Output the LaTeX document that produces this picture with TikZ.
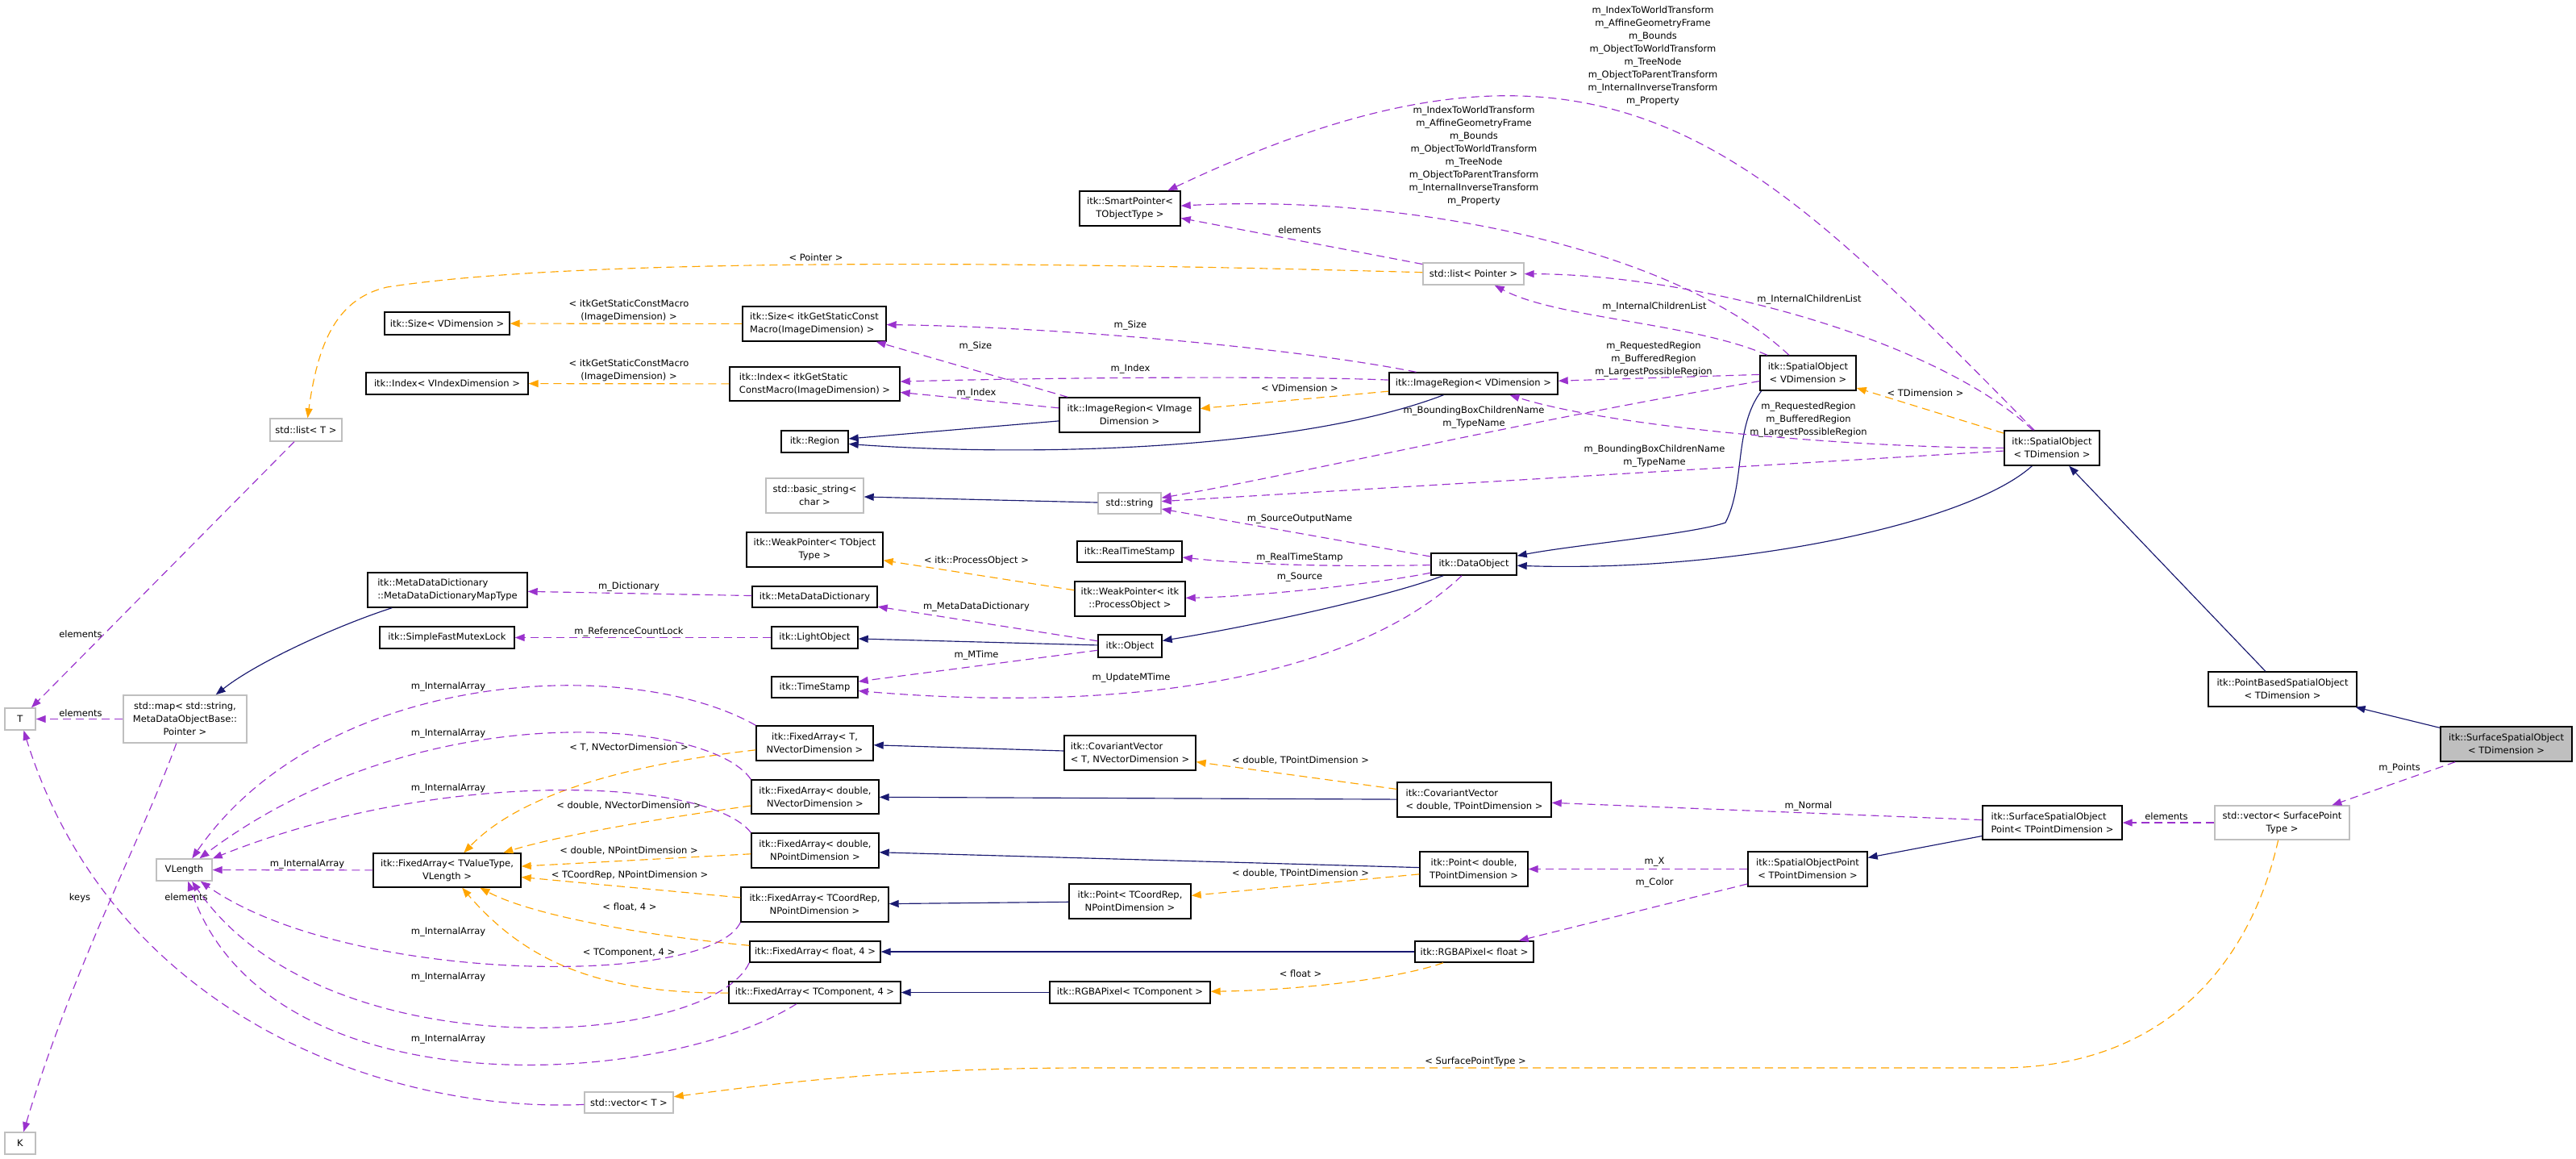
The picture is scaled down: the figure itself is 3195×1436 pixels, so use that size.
\documentclass[tikz,border=0pt]{standalone}
\usepackage{fontspec}
\setmainfont{DejaVu Sans}
\usetikzlibrary{arrows.meta}
\definecolor{navyc}{HTML}{191970}
\definecolor{orchc}{HTML}{9A32CD}
\definecolor{orngc}{HTML}{FFA500}
\definecolor{grayc}{HTML}{BFBFBF}
\tikzset{
  txt/.style={font=\fontsize{11.5}{16}\selectfont, align=center},
  cbox/.style={draw=black, line width=1.4pt, fill=white, txt, inner sep=2pt},
  gbox/.style={cbox, draw=grayc},
  fbox/.style={cbox, fill=grayc},
  lbl/.style={txt, inner sep=0pt},
  tipE/.style={-{Triangle[length=12pt,width=9pt]}},
  inhE/.style={navyc, line width=1.15pt, tipE},
  usageE/.style={orchc, line width=1.15pt, dash pattern=on 10pt off 6pt, tipE},
  tmplE/.style={orngc, line width=1.15pt, dash pattern=on 10pt off 6pt, tipE}
}
\newcommand{\bnode}[7][cbox]{\node[#1, minimum width={(#5-#3)*1pt}, minimum height={(#6-#4)*1pt}] (#2) at ({(#3+#5)/2},{(#4+#6)/2}) {#7};}
\begin{document}
\begin{tikzpicture}[x=1pt,y=-1pt]
\useasboundingbox (0,0) rectangle (3195,1436);
% ---------------- nodes
\bnode[fbox]{SSO}{3027}{901}{3190}{944}{itk::SurfaceSpatialObject\\< TDimension >}
\bnode{PBSO}{2739}{833}{2923}{876}{itk::PointBasedSpatialObject\\< TDimension >}
\bnode{SOT}{2486}{534}{2604}{577}{itk::SpatialObject\\< TDimension >}
\bnode{SOV}{2183}{441}{2302}{484}{itk::SpatialObject\\< VDimension >}
\bnode{SP}{1339}{237}{1464}{280}{itk::SmartPointer<\\TObjectType >}
\bnode[gbox]{LP}{1765}{326}{1890}{353}{std::list< Pointer >}
\bnode[gbox]{LT}{335}{519}{424}{547}{std::list< T >}
\bnode{SizeV}{477}{387}{632}{415}{itk::Size< VDimension >}
\bnode{IndexV}{454}{462}{655}{489}{itk::Index< VIndexDimension >}
\bnode[cbox,align=left]{SizeI}{921}{380}{1099}{423}{itk::Size< itkGetStaticConst\\Macro(ImageDimension) >}
\bnode[cbox,align=left]{IndexI}{905}{455}{1116}{497}{itk::Index< itkGetStatic\\ConstMacro(ImageDimension) >}
\bnode{IRV}{1723}{462}{1932}{489}{itk::ImageRegion< VDimension >}
\bnode{IRI}{1314}{493}{1488}{536}{itk::ImageRegion< VImage\\Dimension >}
\bnode{Region}{969}{534}{1052}{561}{itk::Region}
\bnode[gbox]{BS}{950}{593}{1071}{636}{std::basic\_string<\\char >}
\bnode[gbox]{Str}{1362}{611}{1440}{637}{std::string}
\bnode{WPT}{926}{660}{1095}{703}{itk::WeakPointer< TObject\\Type >}
\bnode{RTS}{1336}{671}{1466}{697}{itk::RealTimeStamp}
\bnode{DO}{1775}{686}{1881}{713}{itk::DataObject}
\bnode{WPP}{1333}{721}{1470}{764}{itk::WeakPointer< itk\\::ProcessObject >}
\bnode[cbox,align=left]{MDM}{456}{710}{654}{753}{itk::MetaDataDictionary\\::MetaDataDictionaryMapType}
\bnode{MDD}{933}{727}{1088}{753}{itk::MetaDataDictionary}
\bnode{SFML}{471}{777}{638}{804}{itk::SimpleFastMutexLock}
\bnode{LO}{957}{777}{1064}{804}{itk::LightObject}
\bnode{Obj}{1362}{787}{1441}{815}{itk::Object}
\bnode{TS}{957}{839}{1064}{865}{itk::TimeStamp}
\bnode[gbox]{T}{6}{878}{44}{905}{T}
\bnode[gbox]{Map}{153}{862}{306}{921}{std::map< std::string,\\MetaDataObjectBase::\\Pointer >}
\bnode[gbox]{K}{6}{1404}{44}{1431}{K}
\bnode[gbox]{VL}{194}{1065}{263}{1092}{VLength}
\bnode{FAV}{463}{1058}{646}{1100}{itk::FixedArray< TValueType,\\VLength >}
\bnode{FAT}{938}{900}{1083}{943}{itk::FixedArray< T,\\NVectorDimension >}
\bnode[cbox,align=left]{CVT}{1320}{912}{1483}{955}{itk::CovariantVector\\< T, NVectorDimension >}
\bnode{FAdV}{932}{967}{1090}{1009}{itk::FixedArray< double,\\NVectorDimension >}
\bnode{FAdP}{932}{1033}{1090}{1076}{itk::FixedArray< double,\\NPointDimension >}
\bnode{FAC}{919}{1100}{1102}{1143}{itk::FixedArray< TCoordRep,\\NPointDimension >}
\bnode{PC}{1326}{1096}{1477}{1139}{itk::Point< TCoordRep,\\NPointDimension >}
\bnode{FAf}{930}{1167}{1092}{1193}{itk::FixedArray< float, 4 >}
\bnode{FATC}{904}{1217}{1117}{1244}{itk::FixedArray< TComponent, 4 >}
\bnode{RGBT}{1302}{1217}{1501}{1244}{itk::RGBAPixel< TComponent >}
\bnode[gbox]{VT}{725}{1354}{835}{1380}{std::vector< T >}
\bnode[cbox,align=left]{CVd}{1733}{970}{1924}{1013}{itk::CovariantVector\\< double, TPointDimension >}
\bnode{Pd}{1761}{1056}{1895}{1099}{itk::Point< double,\\TPointDimension >}
\bnode{RGBf}{1755}{1167}{1902}{1193}{itk::RGBAPixel< float >}
\bnode{SOP}{2168}{1056}{2316}{1099}{itk::SpatialObjectPoint\\< TPointDimension >}
\bnode[cbox,align=left]{SSOP}{2459}{999}{2632}{1041}{itk::SurfaceSpatialObject\\Point< TPointDimension >}
\bnode[gbox]{VS}{2747}{999}{2914}{1041}{std::vector< SurfacePoint\\Type >}
% ---------------- labels
\node[lbl] (l01) at (2050,69) {m\_IndexToWorldTransform\\m\_AffineGeometryFrame\\m\_Bounds\\m\_ObjectToWorldTransform\\m\_TreeNode\\m\_ObjectToParentTransform\\m\_InternalInverseTransform\\m\_Property};
\node[lbl] (l02) at (1828,193) {m\_IndexToWorldTransform\\m\_AffineGeometryFrame\\m\_Bounds\\m\_ObjectToWorldTransform\\m\_TreeNode\\m\_ObjectToParentTransform\\m\_InternalInverseTransform\\m\_Property};
\node[lbl] (l03) at (1612,285) {elements};
\node[lbl] (l04) at (1012,319) {< Pointer >};
\node[lbl] (l05) at (2052,380) {m\_InternalChildrenList};
\node[lbl] (l06) at (2244,371) {m\_InternalChildrenList};
\node[lbl] (l07) at (2051,445) {m\_RequestedRegion\\m\_BufferedRegion\\m\_LargestPossibleRegion};
\node[lbl] (l08) at (2243,520) {m\_RequestedRegion\\m\_BufferedRegion\\m\_LargestPossibleRegion};
\node[lbl] (l09) at (1828,517) {m\_BoundingBoxChildrenName\\m\_TypeName};
\node[lbl] (l10) at (2052,565) {m\_BoundingBoxChildrenName\\m\_TypeName};
\node[lbl] (l11) at (2388,487) {< TDimension >};
\node[lbl] (l12) at (1402,403) {m\_Size};
\node[lbl] (l13) at (1210,429) {m\_Size};
\node[lbl] (l14) at (1402,457) {m\_Index};
\node[lbl] (l15) at (1211,487) {m\_Index};
\node[lbl] (l16) at (1612,481) {< VDimension >};
\node[lbl] (l17) at (780,385) {< itkGetStaticConstMacro\\(ImageDimension) >};
\node[lbl] (l18) at (780,459) {< itkGetStaticConstMacro\\(ImageDimension) >};
\node[lbl] (l19) at (1612,644) {m\_SourceOutputName};
\node[lbl] (l20) at (1612,691) {m\_RealTimeStamp};
\node[lbl] (l21) at (1612,716) {m\_Source};
\node[lbl] (l22) at (1403,840) {m\_UpdateMTime};
\node[lbl] (l23) at (1211,695) {< itk::ProcessObject >};
\node[lbl] (l24) at (1211,752) {m\_MetaDataDictionary};
\node[lbl] (l25) at (1211,812) {m\_MTime};
\node[lbl] (l26) at (780,727) {m\_Dictionary};
\node[lbl] (l27) at (780,783) {m\_ReferenceCountLock};
\node[lbl] (l28) at (100,786) {elements};
\node[lbl] (l29) at (100,884) {elements};
\node[lbl] (l30) at (99,1113) {keys};
\node[lbl] (l31) at (231,1112) {elements};
\node[lbl] (l32) at (556,851) {m\_InternalArray};
\node[lbl] (l33) at (556,909) {m\_InternalArray};
\node[lbl] (l34) at (556,977) {m\_InternalArray};
\node[lbl] (l35) at (381,1071) {m\_InternalArray};
\node[lbl] (l36) at (556,1155) {m\_InternalArray};
\node[lbl] (l37) at (556,1211) {m\_InternalArray};
\node[lbl] (l38) at (556,1288) {m\_InternalArray};
\node[lbl] (l39) at (780,927) {< T, NVectorDimension >};
\node[lbl] (l40) at (780,999) {< double, NVectorDimension >};
\node[lbl] (l41) at (780,1055) {< double, NPointDimension >};
\node[lbl] (l42) at (781,1085) {< TCoordRep, NPointDimension >};
\node[lbl] (l43) at (781,1125) {< float, 4 >};
\node[lbl] (l44) at (780,1181) {< TComponent, 4 >};
\node[lbl] (l45) at (1613,943) {< double, TPointDimension >};
\node[lbl] (l46) at (1613,1083) {< double, TPointDimension >};
\node[lbl] (l47) at (1613,1207) {< float >};
\node[lbl] (l48) at (2243,999) {m\_Normal};
\node[lbl] (l49) at (2052,1069) {m\_X};
\node[lbl] (l50) at (2052,1094) {m\_Color};
\node[lbl] (l51) at (2976,952) {m\_Points};
\node[lbl] (l52) at (2687,1012) {elements};
\node[lbl] (l53) at (1830,1316) {< SurfacePointType >};
% ---------------- inheritance
\draw[inhE] (IRI) -- (Region);
\draw[inhE] (IRV) .. controls (1620,555) and (1300,568) .. (Region);
\draw[inhE] (Str) -- (BS);
\draw[inhE] (Obj) -- (LO);
\draw[inhE] (DO) .. controls (1720,740) and (1560,775) .. (Obj);
\draw[inhE] (SOV.201) .. controls (2150,530) and (2165,600) .. (2140,648) .. controls (2100,662) and (1950,676) .. (DO);
\draw[inhE] (SOT) .. controls (2440,650) and (2150,710) .. (DO);
\draw[inhE] (PBSO) -- (SOT);
\draw[inhE] (SSO) -- (PBSO);
\draw[inhE] (SSOP) -- (SOP);
\draw[inhE] (CVT) -- (FAT);
\draw[inhE] (CVd) -- (FAdV);
\draw[inhE] (Pd) -- (FAdP);
\draw[inhE] (PC) -- (FAC);
\draw[inhE] (RGBf) -- (FAf);
\draw[inhE] (RGBT) -- (FATC);
\draw[inhE] (MDM) .. controls (420,775) and (320,820) .. (Map);
% ---------------- template instances
\draw[tmplE] (LP) .. controls (1200,322) and (700,322) .. (480,356) .. controls (420,370) and (395,420) .. (LT);
\draw[tmplE] (SizeI) -- (SizeV);
\draw[tmplE] (IndexI) -- (IndexV);
\draw[tmplE] (IRV) -- (IRI);
\draw[tmplE] (WPP) -- (WPT);
\draw[tmplE] (SOT) -- (SOV);
\draw[tmplE] (FAT) .. controls (760,950) and (640,990) .. (FAV);
\draw[tmplE] (FAdV) .. controls (780,1020) and (680,1040) .. (FAV);
\draw[tmplE] (FAdP) -- (FAV);
\draw[tmplE] (FAC) -- (FAV);
\draw[tmplE] (FAf) .. controls (800,1160) and (660,1135) .. (FAV);
\draw[tmplE] (FATC) .. controls (740,1232) and (650,1190) .. (FAV);
\draw[tmplE] (CVd) -- (CVT);
\draw[tmplE] (Pd) -- (PC);
\draw[tmplE] (RGBf) .. controls (1730,1215) and (1600,1228) .. (RGBT);
\draw[tmplE] (VS) .. controls (2790,1200) and (2680,1324) .. (2480,1324) -- (1350,1324) .. controls (1100,1324) and (950,1345) .. (VT);
% ---------------- usage
\draw[usageE] (SOT) .. controls (2177,184) and (1995,-22) .. (SP);
\draw[usageE] (SOV) .. controls (2080,310) and (1750,240) .. (SP);
\draw[usageE] (LP) -- (SP);
\draw[usageE] (SOV) .. controls (2100,400) and (1930,395) .. (LP);
\draw[usageE] (SOT) .. controls (2400,420) and (2100,340) .. (LP);
\draw[usageE] (SOV) -- (IRV);
\draw[usageE] (SOT) .. controls (2300,555) and (2000,530) .. (IRV);
\draw[usageE] (SOV) .. controls (1900,520) and (1600,590) .. (Str);
\draw[usageE] (SOT) -- (Str);
\draw[usageE] (IRV) .. controls (1600,430) and (1300,405) .. (SizeI);
\draw[usageE] (IRI) -- (SizeI);
\draw[usageE] (IRV) .. controls (1600,466) and (1300,468) .. (IndexI);
\draw[usageE] (IRI) -- (IndexI);
\draw[usageE] (DO) -- (Str);
\draw[usageE] (DO) .. controls (1650,703) and (1550,700) .. (RTS);
\draw[usageE] (DO) .. controls (1700,725) and (1550,740) .. (WPP);
\draw[usageE] (DO) .. controls (1680,840) and (1400,885) .. (TS);
\draw[usageE] (Obj) -- (MDD);
\draw[usageE] (Obj) -- (TS);
\draw[usageE] (MDD) -- (MDM);
\draw[usageE] (LO) -- (SFML);
\draw[usageE] (LT) -- (T);
\draw[usageE] (Map) -- (T);
\draw[usageE] (Map) .. controls (180,1030) and (90,1200) .. (K);
\draw[usageE] (VT) .. controls (480,1380) and (140,1260) .. (T);
\draw[usageE] (FAT.north west) .. controls (780,810) and (400,830) .. (VL);
\draw[usageE] (FAdV.north west) .. controls (880,890) and (520,860) .. (VL);
\draw[usageE] (FAdP.north west) .. controls (880,965) and (550,950) .. (VL);
\draw[usageE] (FAV) -- (VL);
\draw[usageE] (FAC.south west) .. controls (880,1225) and (430,1220) .. (VL);
\draw[usageE] (FAf.south west) .. controls (880,1300) and (400,1330) .. (VL);
\draw[usageE] (FATC) .. controls (820,1350) and (330,1380) .. (VL);
\draw[usageE] (SSO) -- (VS);
\draw[usageE] (VS) -- (SSOP);
\draw[usageE] (SSOP) -- (CVd);
\draw[usageE] (SOP) -- (Pd);
\draw[usageE] (SOP) -- (RGBf);
\end{tikzpicture}
\end{document}
